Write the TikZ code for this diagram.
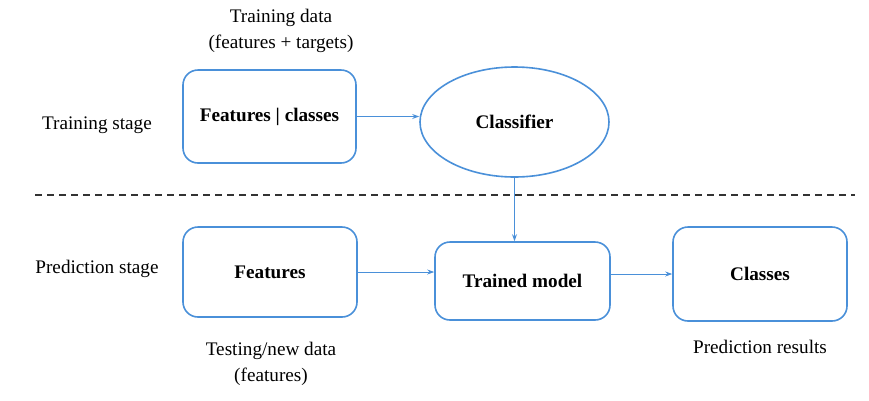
\documentclass[tikz,border=0pt]{standalone}
\usepackage{fontspec}
\setmainfont{Liberation Serif}
\usetikzlibrary{shapes.geometric,arrows.meta}

\definecolor{boxblue}{RGB}{74,144,217}
\definecolor{dashgray}{RGB}{51,51,51}

\begin{document}
\begin{tikzpicture}[x=1pt,y=-1pt,
		txt/.style={font=\fontsize{19.2}{26}\selectfont,align=center,inner sep=0pt},
		box/.style={draw=boxblue,line width=1.6pt,rounded corners=15pt,
			font=\fontsize{19.2}{22}\selectfont\bfseries,inner sep=0pt},
		oval/.style={draw=boxblue,line width=1.6pt,ellipse,
			font=\fontsize{19.2}{22}\selectfont\bfseries,inner sep=0pt},
		link/.style={draw=boxblue,line width=0.9pt,-{Stealth[length=7pt,width=5pt]}}]
		\useasboundingbox (0,0) rectangle (869,400);

		% training stage
		\node[box,minimum width=173pt,minimum height=93pt] (fc) at (269.5,116.5) {Features | classes};
		\node[oval,minimum width=189pt,minimum height=110pt] (clf) at (514.5,122) {Classifier};
		\node[txt] (trdata) at (281,31) {Training data\\(features + targets)};
		\node[txt] (trstage) at (97,125) {Training stage};

		% prediction stage
		\node[box,minimum width=174pt,minimum height=90pt] (feat) at (270,272) {Features};
		\node[box,minimum width=175pt,minimum height=78pt] (tm) at (522.5,281) {Trained model};
		\node[box,minimum width=174pt,minimum height=94pt] (cls) at (760,274) {Classes};
		\node[txt] (prstage) at (97,269) {Prediction stage};
		\node[txt] (tsdata) at (271,364) {Testing/new data\\(features)};
		\node[txt] (prres) at (760,347) {Prediction results};

		% separator
		\coordinate (sepl) at (35,195);
		\coordinate (sepr) at (855,195);
		\draw[dashgray,line width=1.2pt,dash pattern=on 7pt off 5pt] (sepl) -- (sepr);

		\draw[link] (fc.east) -- (fc.east -| clf.west);
		\draw[link] (clf.south) -- (clf.south |- tm.north);
		\draw[link] (feat.east) -- (feat.east -| tm.west);
		\draw[link] (cls.west -| tm.east) -- (cls.west);

	\end{tikzpicture}
\end{document}
